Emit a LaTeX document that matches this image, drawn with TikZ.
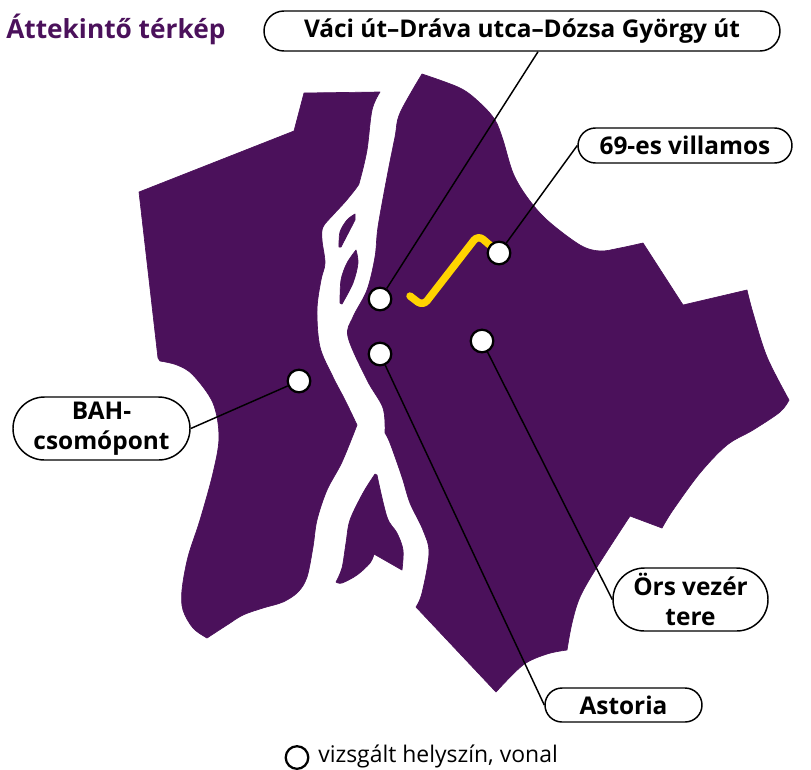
\documentclass[tikz,border=0pt]{standalone}
\usepackage{fontspec}
\setmainfont{Open Sans}
\definecolor{mapc}{HTML}{4B115B}
\definecolor{titlec}{HTML}{4B115B}
\definecolor{tramc}{HTML}{FFD400}
\tikzset{
  mapshape/.style={fill=mapc,draw=mapc,line width=0.5pt,line join=round},
  dot/.style={circle,draw=black,fill=white,line width=1.7pt,minimum size=22.6*0.75pt,inner sep=0pt},
  pill/.style n args={3}{draw=black,fill=white,line width=1.1pt,rounded corners=#3*0.375pt,minimum width=#1*0.75pt,minimum height=#2*0.75pt,inner sep=0pt,align=center,font=\bfseries\fontsize{18.3}{22.5}\selectfont},
  link/.style={draw=black,line width=1.1pt},
  smth/.style={smooth,tension=0.55}
}
\begin{document}
\begin{tikzpicture}[x=0.75pt,y=-0.75pt]
\useasboundingbox (0,0) rectangle (811,769);
% Buda
\fill[mapshape] (139,192) -- (294,131) -- (304,93) -- (380,92)
 -- plot[smth] coordinates {(380,92) (372,110) (367,150) (360,180) (357,187) (345,202) (333,215) (323,227) (322,240) (325,263) (321,280) (317,310) (320,347) (333,377) (345,400) (357,425)}
 -- plot[smth] coordinates {(357,425) (342,462) (327,490) (317,520) (313,547) (307,577) (298,592) (283,602) (263,608) (243,615) (227,625) (207,638)}
 -- plot[smth] coordinates {(207,638) (193,628) (183,610) (182,590) (188,557) (200,520) (213,473) (219,437) (213,403) (193,375) (177,365) (160,361)}
 -- (158,358) -- cycle;
% Pest
\fill[mapshape] (422,74)
 -- plot[smth] coordinates {(422,74) (460,88) (480,103) (495,120) (503,140) (513,173) (527,197) (547,220) (580,245) (600,251) (620,248) (643,243)}
 -- (683,305) -- (747,290)
 -- plot[smth] coordinates {(747,290) (753,313) (767,357) (789,400)}
 -- plot[smth] coordinates {(789,400) (780,412) (753,430) (727,445) (700,473) (673,510) (662,528)}
 -- (630,516)
 -- plot[smth] coordinates {(630,516) (597,567) (580,597) (572,623) (567,650)}
 -- plot[smth] coordinates {(567,650) (547,654) (523,665) (496,692)}
 -- (416,607)
 -- plot[smth] coordinates {(416,607) (422,593) (429,553) (423,530) (410,503) (402,477) (390,443) (385,433)}
 -- plot[smth] coordinates {(385,433) (383,408) (367,380) (348,337) (353,317) (367,290) (375,257) (378,227) (387,177) (395,137) (400,113) (422,74)}
 -- cycle;
% islands
\fill[mapshape] plot[smth] coordinates {(355,214) (347,220) (340,232) (339,247)} -- (341,247) -- (355,220) -- cycle;
\fill[mapshape] plot[smth] coordinates {(356,250) (347,263) (341,280) (340,303)} -- (342,304)
 -- plot[smth] coordinates {(342,304) (353,283) (358,263) (356,250)} -- cycle;
\fill[mapshape] (375,474)
 -- plot[smth] coordinates {(375,474) (363,493) (350,520) (346,543) (342,568) (336,582)}
 -- plot[smth] coordinates {(336,582) (342,583) (357,575) (370,563) (374,554)}
 -- (402,570)
 -- plot[smth] coordinates {(402,570) (403,550) (397,533) (387,517) (377,475)}
 -- cycle;
% tram line
\draw[tramc,line width=5.6pt,line cap=round,line join=round,rounded corners=5pt] (410,296) -- (423,306) -- (478,235) -- (499,253);
% nodes
\node[anchor=west,text=titlec,font=\bfseries\fontsize{19.7}{23}\selectfont,inner sep=0pt] (title) at (6,29) {Áttekintő térkép};
\node[pill={516}{40}{40}] (top) at (522,31) {Váci út–Dráva utca–Dózsa György út};
\node[pill={214}{35}{35}] (tram) at (685,145.5) {69-es villamos};
\node[pill={155}{63}{63}] (ors) at (690.5,599.5) {Örs vezér\\tere};
\node[pill={157}{34}{34}] (ast) at (623.5,705) {Astoria};
\node[pill={177}{63}{63}] (bah) at (101.5,428.5) {BAH-\\csomópont};
\node[dot] (d1) at (380,299) {};
\node[dot] (d2) at (380,354) {};
\node[dot] (d3) at (299,381) {};
\node[dot] (d4) at (499,253) {};
\node[dot] (d5) at (482,341) {};
\draw[link] (d1) -- ([xshift=12pt]top.south);
\draw[link] (d4) -- (tram.west);
\draw[link] (d5) -- (ors.west);
\draw[link] (d2) -- (ast.west);
\draw[link] (d3) -- (bah.east);
% legend
\node[dot] (leg) at (297,757.5) {};
\node[anchor=west,inner sep=0pt,font=\fontsize{17.2}{20}\selectfont] (legt) at (318,756) {vizsgált helyszín, vonal};
\end{tikzpicture}
\end{document}
